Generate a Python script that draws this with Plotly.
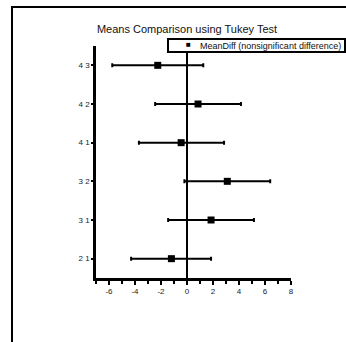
import plotly.graph_objects as go

pairs = ["2 1", "3 1", "3 2", "4 1", "4 2", "4 3"]
mean_diff = [-1.2, 1.85, 3.1, -0.45, 0.85, -2.25]
lower = [-4.3, -1.45, -0.2, -3.7, -2.45, -5.75]
upper = [1.85, 5.15, 6.4, 2.85, 4.15, 1.25]
x_ticks = [-6, -4, -2, 0, 2, 4, 6, 8]
x_tick_labels = ["-6", "-4", "-2", "0", "2", "4", "6", "8"]
legend_label = "MeanDiff (nonsignificant difference)"

W, H = 346, 342
L, R, T, B = 96, 291, 46, 278

err_plus = [u - m for u, m in zip(upper, mean_diff)]
err_minus = [m - l for m, l in zip(mean_diff, lower)]

fig = go.Figure()
fig.add_trace(go.Scatter(
    x=mean_diff, y=pairs, mode="markers",
    name=legend_label, showlegend=False,
    marker=dict(symbol="square", size=7, color="black"),
    error_x=dict(type="data", symmetric=False, array=err_plus, arrayminus=err_minus,
                 color="black", thickness=2, width=2),
))

def px_x(p):
    return (p - L) / (R - L)

def px_y(p):
    return (B - p) / (B - T)

# outer frame
fig.add_shape(type="rect", xref="paper", yref="paper",
              x0=px_x(12), x1=px_x(360), y0=px_y(360), y1=px_y(7),
              line=dict(color="black", width=2), layer="below")
# zero line
fig.add_shape(type="line", xref="x", yref="paper", x0=0, x1=0, y0=0, y1=1,
              line=dict(color="black", width=2), layer="below")
# legend box
fig.add_shape(type="rect", xref="paper", yref="paper",
              x0=px_x(168), x1=px_x(345), y0=px_y(52), y1=px_y(39),
              line=dict(color="black", width=2), fillcolor="white", layer="above")
fig.add_annotation(xref="paper", yref="paper", x=px_x(188), y=px_y(45),
                   text="■", showarrow=False, xanchor="center", yanchor="middle",
                   font=dict(size=8, color="black"))
fig.add_annotation(xref="paper", yref="paper", x=px_x(198), y=px_y(46),
                   text=legend_label, showarrow=False, xanchor="left", yanchor="middle",
                   font=dict(size=9, color="#111"))

fig.update_layout(
    width=W, height=H,
    margin=dict(l=L, r=W - R, t=T, b=H - B, autoexpand=False),
    paper_bgcolor="white", plot_bgcolor="white",
    font=dict(family="Liberation Sans, Arial", color="#222", size=8),
    title=dict(text="Means Comparison using Tukey Test", x=187 / W,
               xanchor="center", y=1 - 29 / H, yanchor="middle",
               font=dict(size=11, color="#111")),
    showlegend=False,
    xaxis=dict(range=[-7, 8], tickvals=x_ticks, ticktext=x_tick_labels,
               showgrid=False, zeroline=False,
               showline=True, linecolor="black", linewidth=2.5,
               ticks="outside", ticklen=4, tickwidth=2, tickcolor="black",
               minor=dict(tickvals=[-7, -5, -3, -1, 1, 3, 5, 7], ticks="outside",
                          ticklen=3, tickwidth=2, tickcolor="black"),
               tickfont=dict(size=8, color="#222")),
    yaxis=dict(type="category", categoryorder="array", categoryarray=pairs,
               range=[-0.5, 5.5], showgrid=False, zeroline=False,
               showline=True, linecolor="black", linewidth=2.5,
               ticks="outside", ticklen=2, tickwidth=2, tickcolor="black",
               tickfont=dict(size=8, color="#222")),
)

fig.write_html("out.html")
